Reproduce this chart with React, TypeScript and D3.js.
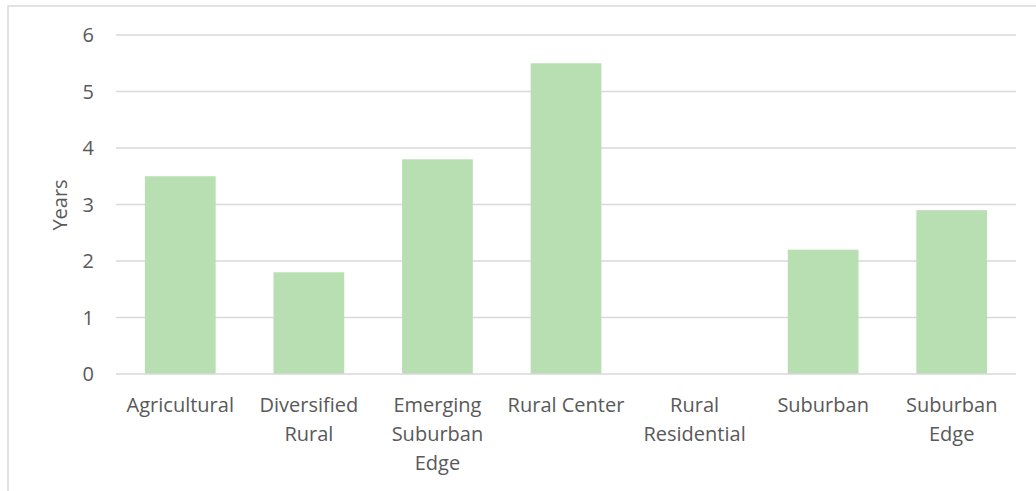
import React from "react";
import * as d3 from "d3";

const categories = ["Agricultural", "Diversified Rural", "Emerging Suburban Edge", "Rural Center", "Rural Residential", "Suburban", "Suburban Edge"];
const categoryLines = [["Agricultural"], ["Diversified", "Rural"], ["Emerging", "Suburban", "Edge"], ["Rural Center"], ["Rural", "Residential"], ["Suburban"], ["Suburban", "Edge"]];
const values = [3.5, 1.8, 3.8, 5.5, 0, 2.2, 2.9];
const yTicks = [0, 1, 2, 3, 4, 5, 6];
const yTitle = "Years";

const W = 1036, H = 491;
const FONT = "'Open Sans', 'Noto Sans', sans-serif";
const TEXT = "#595959";
const GRID = "#d9d9d9";
const BAR = "#b8dfb2";

export default function App() {
  const x = d3.scaleBand<string>().domain(categories).range([116, 1016]).paddingInner(0.45).paddingOuter(0.225);
  const y = d3.scaleLinear().domain([0, 6]).range([374, 35]);
  return (
    <svg width={W} height={H} style={{ position: "absolute", left: 0, top: 0, display: "block" }}>
      <rect x={0} y={0} width={W} height={H} fill="#fff" />
      <rect x={8} y={6} width={W + 10} height={H + 10} fill="#fff" stroke={GRID} strokeWidth={1.5} />
      {yTicks.map((t) => (
        <g key={t}>
          {t !== 0 && <line x1={116} x2={1016} y1={y(t)} y2={y(t)} stroke={GRID} strokeWidth={1.3} />}
          <text x={94} y={y(t)} dy="0.35em" textAnchor="end" fontFamily={FONT} fontSize={20} fill={TEXT}>{t}</text>
        </g>
      ))}
      {categories.map((c, i) => (
        <rect key={c} x={x(c)} y={y(values[i])} width={x.bandwidth()} height={y(0) - y(values[i])} fill={BAR} />
      ))}
      <line x1={116} x2={1016} y1={y(0)} y2={y(0)} stroke={GRID} strokeWidth={1.5} />
      {categories.map((c, i) => (
        <text key={c} x={(x(c) as number) + x.bandwidth() / 2} y={412} textAnchor="middle" fontFamily={FONT} fontSize={20} fill={TEXT}>
          {categoryLines[i].map((l, j) => (
            <tspan key={j} x={(x(c) as number) + x.bandwidth() / 2} dy={j === 0 ? 0 : 29}>{l}</tspan>
          ))}
        </text>
      ))}
      <text transform={`translate(67,205) rotate(-90)`} textAnchor="middle" fontFamily={FONT} fontSize={20} fill={TEXT}>{yTitle}</text>
    </svg>
  );
}
